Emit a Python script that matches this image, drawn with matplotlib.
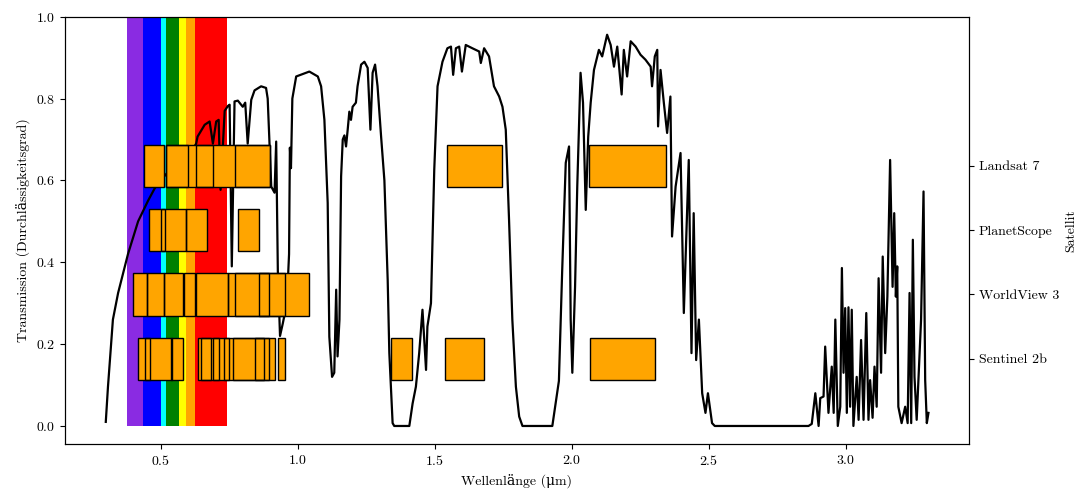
import numpy as np
import matplotlib
matplotlib.use('Agg')
import matplotlib.pyplot as plt

plt.rcParams['font.family'] = ['cmr10', 'DejaVu Serif']
plt.rcParams['mathtext.fontset'] = 'cm'
plt.rcParams['axes.formatter.use_mathtext'] = True
plt.rcParams['font.size'] = 10

# atmospheric transmission curve
wavelength = [
    0.299, 0.307, 0.325, 0.344, 0.380, 0.417, 0.453, 0.477, 0.500, 0.550, 0.600, 0.620,
    0.629, 0.634, 0.660, 0.678, 0.690, 0.702, 0.711, 0.718, 0.733, 0.745, 0.751, 0.759,
    0.769, 0.781, 0.793, 0.799, 0.808, 0.817, 0.830, 0.842, 0.866, 0.884, 0.890, 0.897,
    0.903, 0.915, 0.921, 0.927, 0.935, 0.945, 0.960, 0.968, 0.971, 0.975, 0.980, 0.994,
    1.042, 1.073, 1.085, 1.097, 1.109, 1.115, 1.125, 1.133, 1.140, 1.145, 1.152, 1.158,
    1.164, 1.170, 1.176, 1.182, 1.188, 1.194, 1.200, 1.212, 1.218, 1.231, 1.243, 1.255,
    1.265, 1.273, 1.282, 1.291, 1.304, 1.316, 1.328, 1.334, 1.346, 1.352, 1.407, 1.419,
    1.431, 1.443, 1.455, 1.468, 1.473, 1.486, 1.498, 1.510, 1.528, 1.546, 1.559, 1.567,
    1.577, 1.589, 1.599, 1.613, 1.637, 1.662, 1.668, 1.680, 1.698, 1.716, 1.735, 1.747,
    1.759, 1.771, 1.783, 1.796, 1.808, 1.820, 1.929, 1.941, 1.953, 1.965, 1.978, 1.990,
    1.996, 2.002, 2.012, 2.020, 2.032, 2.041, 2.051, 2.060, 2.069, 2.081, 2.099, 2.111,
    2.129, 2.142, 2.154, 2.166, 2.182, 2.190, 2.202, 2.215, 2.233, 2.251, 2.269, 2.288,
    2.293, 2.303, 2.312, 2.315, 2.324, 2.336, 2.348, 2.360, 2.366, 2.379, 2.397, 2.409,
    2.427, 2.437, 2.445, 2.454, 2.464, 2.476, 2.488, 2.497, 2.512, 2.522, 2.864, 2.876,
    2.889, 2.901, 2.907, 2.919, 2.925, 2.937, 2.949, 2.956, 2.962, 2.971, 2.980, 2.986,
    2.992, 2.998, 3.004, 3.010, 3.016, 3.022, 3.028, 3.040, 3.047, 3.056, 3.065, 3.075,
    3.083, 3.089, 3.098, 3.105, 3.113, 3.120, 3.129, 3.135, 3.144, 3.152, 3.162, 3.171,
    3.177, 3.183, 3.188, 3.192, 3.204, 3.217, 3.226, 3.233, 3.239, 3.245, 3.251, 3.259,
    3.275, 3.284, 3.290, 3.296, 3.302]
transmission = [
    0.010, 0.096, 0.260, 0.325, 0.420, 0.500, 0.550, 0.580, 0.600, 0.640, 0.660, 0.680,
    0.690, 0.707, 0.736, 0.744, 0.690, 0.744, 0.748, 0.577, 0.770, 0.782, 0.785, 0.390,
    0.793, 0.795, 0.785, 0.780, 0.790, 0.690, 0.797, 0.820, 0.830, 0.826, 0.800, 0.683,
    0.585, 0.570, 0.695, 0.380, 0.220, 0.250, 0.300, 0.420, 0.680, 0.630, 0.800, 0.854,
    0.866, 0.854, 0.830, 0.748, 0.545, 0.218, 0.120, 0.130, 0.333, 0.170, 0.260, 0.610,
    0.700, 0.710, 0.683, 0.724, 0.768, 0.748, 0.780, 0.790, 0.830, 0.883, 0.890, 0.875,
    0.724, 0.863, 0.883, 0.830, 0.707, 0.600, 0.357, 0.178, 0.007, 0.000, 0.000, 0.055,
    0.096, 0.178, 0.284, 0.137, 0.243, 0.300, 0.626, 0.830, 0.890, 0.923, 0.927, 0.858,
    0.923, 0.927, 0.866, 0.931, 0.923, 0.915, 0.887, 0.923, 0.903, 0.830, 0.805, 0.780,
    0.724, 0.504, 0.260, 0.096, 0.023, 0.000, 0.000, 0.055, 0.110, 0.380, 0.643, 0.683,
    0.260, 0.130, 0.340, 0.585, 0.863, 0.790, 0.528, 0.707, 0.790, 0.870, 0.919, 0.903,
    0.956, 0.931, 0.878, 0.927, 0.810, 0.919, 0.854, 0.940, 0.927, 0.907, 0.895, 0.878,
    0.830, 0.903, 0.919, 0.732, 0.870, 0.790, 0.716, 0.805, 0.463, 0.585, 0.667, 0.276,
    0.650, 0.178, 0.520, 0.161, 0.260, 0.080, 0.032, 0.080, 0.007, 0.000, 0.000, 0.005,
    0.080, 0.000, 0.068, 0.072, 0.194, 0.032, 0.145, 0.032, 0.260, 0.000, 0.047, 0.386,
    0.130, 0.288, 0.032, 0.290, 0.047, 0.284, 0.000, 0.120, 0.015, 0.210, 0.015, 0.276,
    0.015, 0.112, 0.020, 0.145, 0.047, 0.361, 0.130, 0.414, 0.178, 0.316, 0.650, 0.340,
    0.520, 0.316, 0.390, 0.047, 0.007, 0.047, 0.007, 0.325, 0.007, 0.455, 0.120, 0.015,
    0.260, 0.573, 0.112, 0.007, 0.032]

# visible spectrum
rainbow_edges = [0.375, 0.435, 0.50, 0.52, 0.565, 0.59, 0.625, 0.74]
rainbow_colors = ['blueviolet', 'blue', 'cyan', 'green', 'yellow', 'orange', 'red']

# satellite bands (start, end) in µm
satellites = ['Sentinel 2b', 'WorldView 3', 'PlanetScope', 'Landsat 7']
sentinel_bands = [(0.417, 0.462), (0.441, 0.542), (0.536, 0.581), (0.637, 0.918),
                  (0.645, 0.684), (0.692, 0.712), (0.730, 0.747), (0.765, 0.896),
                  (0.845, 0.877), (0.928, 0.955), (1.340, 1.415), (1.538, 1.679),
                  (2.065, 2.303)]
worldview_bands = [(0.40, 0.45), (0.45, 0.51), (0.51, 0.58), (0.585, 0.625),
                   (0.63, 0.745), (0.745, 0.955), (0.77, 0.895), (0.86, 1.04)]
planetscope_bands = [(0.455, 0.515), (0.50, 0.59), (0.59, 0.67), (0.78, 0.86)]
landsat_bands = [(0.44, 0.51), (0.52, 0.90), (0.52, 0.60), (0.63, 0.69),
                 (0.77, 0.90), (1.545, 1.747), (2.063, 2.344)]
all_bands = [sentinel_bands, worldview_bands, planetscope_bands, landsat_bands]

fig, ax1 = plt.subplots(figsize=(10.9, 4.92), dpi=100)
fig.subplots_adjust(left=0.0596, right=0.889, bottom=0.0976, top=0.966)

# rainbow
for i in range(len(rainbow_colors)):
    ax1.bar(rainbow_edges[i], 1.0, width=rainbow_edges[i + 1] - rainbow_edges[i],
            align='edge', color=rainbow_colors[i], zorder=1)

ax1.plot(wavelength, transmission, color='black', lw=1.6, zorder=2)
ax1.set_xlim(0.15, 3.45)
ax1.set_ylim(-0.044, 1.0)
ax1.set_xticks([0.5, 1.0, 1.5, 2.0, 2.5, 3.0])
ax1.set_yticks([0.0, 0.2, 0.4, 0.6, 0.8, 1.0])
# greek small mu (U+03BC): cmr10 has no glyph, so DejaVu Serif is used for it
ax1.set_xlabel('Wellenlänge (\u03bcm)')
ax1.set_ylabel('Transmission (Durchlässigkeitsgrad)')

ax2 = ax1.twinx()
h = 0.66
# faces first, then all outlines on top
for i, bands in enumerate(all_bands):
    for start, end in bands:
        ax2.barh(i, end - start, left=start, height=h, color='orange', zorder=1)
for i, bands in enumerate(all_bands):
    for start, end in bands:
        ax2.barh(i, end - start, left=start, height=h, fill=False,
                 edgecolor='black', linewidth=1.0, zorder=2)
ax2.set_ylim(-1.325, 5.32)
ax2.set_yticks(range(len(satellites)))
ax2.set_yticklabels(satellites)
ax2.set_ylabel('Satellit')
ax2.set_xlim(0.15, 3.45)

fig.savefig('out.png', dpi=100)
